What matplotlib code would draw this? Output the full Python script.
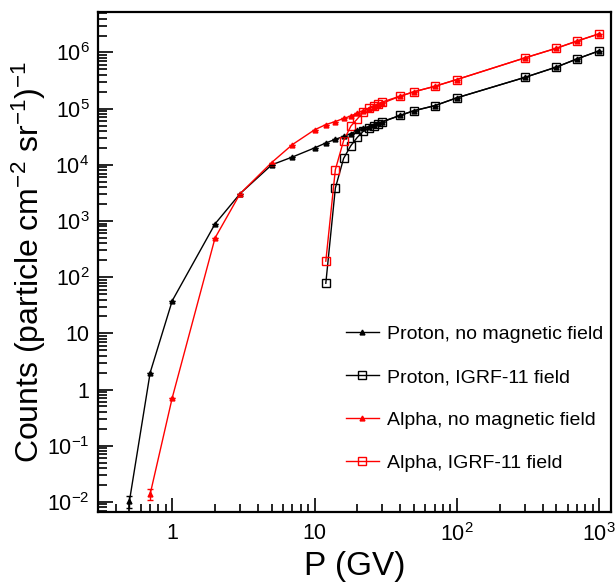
"""Cosmic-ray counts vs rigidity, with and without geomagnetic field."""

import matplotlib

matplotlib.use("Agg")
from matplotlib import pyplot as plt
from matplotlib import ticker

plt.rcParams["font.family"] = ["Liberation Sans", "DejaVu Sans"]
plt.rcParams["mathtext.fontset"] = "custom"
plt.rcParams["mathtext.rm"] = "Liberation Sans"
plt.rcParams["mathtext.it"] = "Liberation Sans:italic"
plt.rcParams["mathtext.bf"] = "Liberation Sans:bold"

# rigidity grid (GV)
p_proton = [0.5, 0.7, 1, 2, 3, 5, 7, 10, 12, 14, 16, 18, 20, 22, 24, 26, 28, 30,
            40, 50, 70, 100, 300, 500, 700, 1000]
p_alpha = p_proton[1:]
p_igrf = [12, 14, 16, 18, 20, 22, 24, 26, 28, 30, 40, 50, 70, 100, 300, 500, 700, 1000]

proton_nofield = [0.0102, 2.0, 38, 890, 3070, 1.0e4, 1.38e4, 2.0e4, 2.45e4, 2.85e4,
                  3.2e4, 3.6e4, 4.1e4, 4.5e4, 4.8e4, 5.1e4, 5.5e4, 5.8e4,
                  7.6e4, 9.2e4, 1.13e5, 1.56e5, 3.6e5, 5.5e5, 7.7e5, 1.07e6]
proton_nofield_err = [0.0025] + [0] * (len(p_proton) - 1)
alpha_nofield = [0.0138, 0.71, 500, 3070, 1.1e4, 2.3e4, 4.2e4, 5.2e4, 5.9e4, 6.7e4,
                 7.4e4, 8.4e4, 9.2e4, 1.0e5, 1.08e5, 1.17e5, 1.25e5,
                 1.67e5, 2.0e5, 2.5e5, 3.3e5, 8.0e5, 1.19e6, 1.6e6, 2.15e6]
alpha_nofield_err = [0.003] + [0] * (len(p_alpha) - 1)
proton_igrf = [78, 3850, 1.3e4, 2.2e4, 3.1e4, 3.95e4, 4.5e4, 5.0e4, 5.4e4, 5.9e4,
               7.6e4, 9.2e4, 1.13e5, 1.56e5, 3.6e5, 5.5e5, 7.7e5, 1.07e6]
alpha_igrf = [193, 8200, 2.7e4, 4.9e4, 6.6e4, 8.7e4, 1.03e5, 1.13e5, 1.23e5, 1.32e5,
              1.67e5, 2.0e5, 2.5e5, 3.3e5, 8.0e5, 1.19e6, 1.6e6, 2.15e6]

labels = [
    "Proton, no magnetic field",
    "Proton, IGRF-11 field",
    "Alpha, no magnetic field",
    "Alpha, IGRF-11 field",
]


def _root_fmt(value, _pos):
    if value <= 0:
        return ""
    exp = round(float(f"{value:e}".split("e")[1]))
    if abs(value - 10.0 ** exp) > 1e-9 * value:
        return ""
    if exp == 0:
        return "1"
    if exp == 1:
        return "10"
    return f"$10^{{{exp}}}$"


figure = plt.figure(figsize=(6.15, 5.83), dpi=100)
axis = figure.add_axes((0.159, 0.1223, 0.8345, 0.8567))

tri = dict(marker="^", markersize=3.5, linewidth=1.0)
sq = dict(marker="s", markersize=5.5, markerfacecolor="none", markeredgewidth=1.0,
          linewidth=1.0)

h0, = axis.plot(p_proton, proton_nofield, color="black", label=labels[0], **tri)
h1, = axis.plot(p_igrf, proton_igrf, color="black", label=labels[1], **sq)
h2, = axis.plot(p_alpha, alpha_nofield, color="red", label=labels[2], **tri)
h3, = axis.plot(p_igrf, alpha_igrf, color="red", label=labels[3], **sq)
axis.errorbar(p_proton, proton_nofield, yerr=proton_nofield_err, fmt="none",
              ecolor="black", capsize=2, elinewidth=1.0)
axis.errorbar(p_alpha, alpha_nofield, yerr=alpha_nofield_err, fmt="none",
              ecolor="red", capsize=2, elinewidth=1.0)

axis.set_xscale("log")
axis.set_yscale("log")
axis.set_xlim(0.3, 1210)
axis.set_ylim(0.0067, 5.2e6)

axis.xaxis.set_major_locator(ticker.LogLocator(base=10, numticks=10))
axis.xaxis.set_minor_locator(ticker.LogLocator(base=10, subs=range(2, 10), numticks=20))
axis.yaxis.set_major_locator(ticker.LogLocator(base=10, numticks=20))
axis.yaxis.set_minor_locator(ticker.LogLocator(base=10, subs=range(2, 10), numticks=30))
axis.xaxis.set_major_formatter(ticker.FuncFormatter(_root_fmt))
axis.yaxis.set_major_formatter(ticker.FuncFormatter(_root_fmt))
axis.xaxis.set_minor_formatter(ticker.NullFormatter())
axis.yaxis.set_minor_formatter(ticker.NullFormatter())

axis.tick_params(which="both", direction="in", top=False, right=False,
                 labelsize=15.5, width=1.2)
axis.tick_params(axis="y", which="major", length=11, pad=6)
axis.tick_params(axis="y", which="minor", length=6.5)
axis.tick_params(axis="x", which="major", length=10, pad=8)
axis.tick_params(axis="x", which="minor", length=5.5)
for spine in axis.spines.values():
    spine.set_linewidth(1.6)

axis.set_xlabel("P (GV)", fontsize=24, labelpad=4)
axis.set_ylabel(r"Counts (particle cm$^{-2}$ sr$^{-1}$)$^{-1}$", fontsize=23)
axis.yaxis.set_label_coords(-0.097, 0.5)

axis.legend(
    handles=[h0, h1, h2, h3],
    loc="center left",
    bbox_to_anchor=(0.483, 0.226),
    frameon=False,
    fontsize=14,
    handlelength=1.7,
    handletextpad=0.4,
    labelspacing=1.3,
    borderpad=0,
    borderaxespad=0,
)

figure.savefig("out.png", dpi=100)
plt.close(figure)
